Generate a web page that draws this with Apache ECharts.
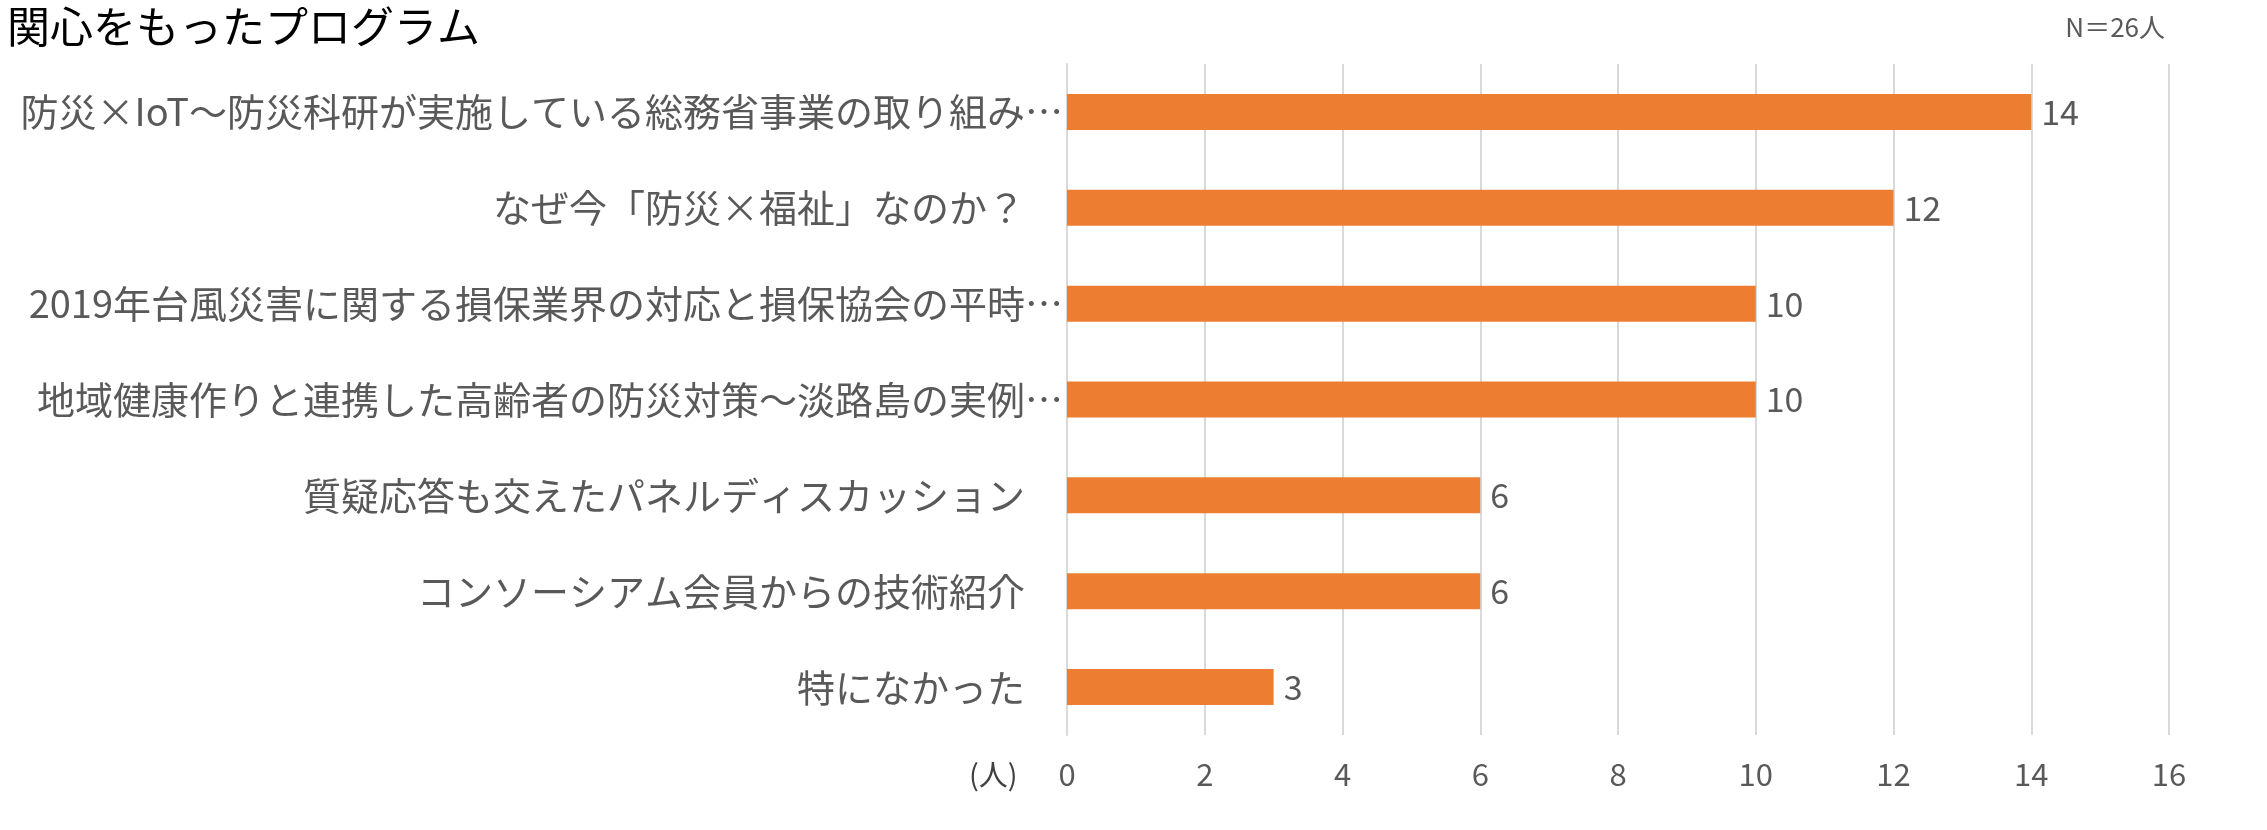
<!DOCTYPE html>
<html><head><meta charset="utf-8">
<script src="https://cdn.jsdelivr.net/npm/echarts@6/dist/echarts.min.js"></script>
<style>html,body{margin:0;padding:0;background:#fff}#c{width:2267px;height:830px}</style>
</head><body><div id="c"></div>
<script>
const categories = [
  '防災×IoT〜防災科研が実施している総務省事業の取り組み…',
  'なぜ今「防災×福祉」なのか？',
  '2019年台風災害に関する損保業界の対応と損保協会の平時…',
  '地域健康作りと連携した高齢者の防災対策〜淡路島の実例…',
  '質疑応答も交えたパネルディスカッション',
  'コンソーシアム会員からの技術紹介',
  '特になかった'
];
const values = [14, 12, 10, 10, 6, 6, 3];
const xTicks = { min: 0, max: 16, interval: 2 };
const titleText = '関心をもったプログラム';
const noteText = 'N＝26人';
const unitText = '(人)';

const FONT = '"Noto Sans CJK JP", "Noto Sans", sans-serif';
const chart = echarts.init(document.getElementById('c'));
chart.setOption({
  animation: false,
  backgroundColor: '#ffffff',
  title: [
    { text: titleText, left: 2, top: 0, textStyle: { fontFamily: FONT, fontSize: 43, fontWeight: 'normal', color: '#000000' } },
    { text: noteText, right: 97, top: 9, textStyle: { fontFamily: FONT, fontSize: 26, fontWeight: 'normal', color: '#595959' } },
    { text: unitText, left: 964, top: 755, textStyle: { fontFamily: FONT, fontSize: 29, fontWeight: 'normal', color: '#404040' } }
  ],
  grid: { left: 1067, right: 98, top: 64, bottom: 95, containLabel: false },
  xAxis: {
    type: 'value', min: xTicks.min, max: xTicks.max, interval: xTicks.interval,
    axisLine: { show: false }, axisTick: { show: false },
    splitLine: { show: true, lineStyle: { color: '#D9D9D9', width: 2 } },
    axisLabel: { margin: 24, fontFamily: FONT, fontSize: 31, color: '#595959' }
  },
  yAxis: {
    type: 'category', data: categories, inverse: true,
    axisLine: { show: true, lineStyle: { color: '#D9D9D9', width: 2 } },
    axisTick: { show: false },
    axisLabel: {
      margin: 4, fontFamily: FONT, fontSize: 38, color: '#595959',
      formatter: v => v.endsWith('…') ? v : v + '　'
    }
  },
  series: [{
    type: 'bar', data: values, barWidth: 36,
    itemStyle: { color: '#ED7D31' },
    label: { show: true, position: 'right', distance: 10, fontFamily: FONT, fontSize: 34, color: '#595959' }
  }]
});
</script></body></html>
